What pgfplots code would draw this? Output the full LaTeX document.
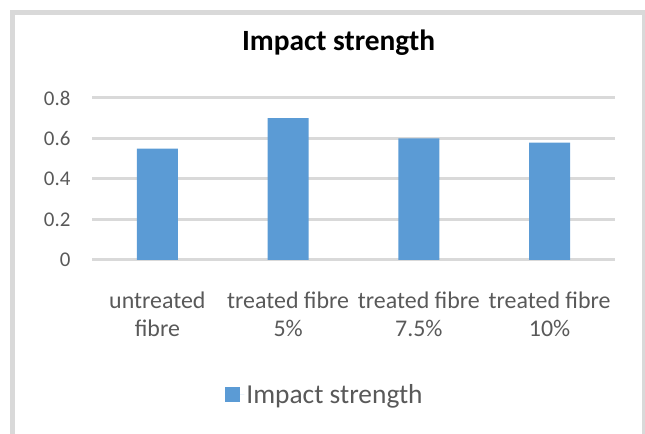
\documentclass[border=0pt]{standalone}
\usepackage{pgfplots}
\pgfplotsset{compat=1.18}
\usepackage{fontspec}
\setmainfont{Carlito}
\definecolor{barblue}{HTML}{5B9BD5}
\definecolor{gridgray}{HTML}{D9D9D9}
\definecolor{txtgray}{HTML}{595959}
\begin{document}
\begin{tikzpicture}[x=1bp,y=1bp]
\useasboundingbox (0,0) rectangle (645,434);
\begin{scope}
\clip (0,0) rectangle (645,434);
\draw[gridgray, line width=4.5bp] (12.5,-10) -- (12.5,421.5) -- (644,421.5) -- (644,-10);
\end{scope}
\begin{axis}[
  at={(92bp,174bp)}, anchor=south west,
  scale only axis, width=523bp, height=162bp,
  xmin=-0.5, xmax=3.5, ymin=0, ymax=0.8,
  ytick={0,0.2,0.4,0.6,0.8},
  yticklabels={0,0.2,0.4,0.6,0.8},
  xtick={0,1,2,3},
  xticklabels={untreated\\fibre, treated fibre\\5\%, treated fibre\\7.5\%, treated fibre\\10\%},
  xticklabel style={align=center, font=\fontsize{24}{28.5}\selectfont, text=txtgray, yshift=-28bp},
  yticklabel style={font=\fontsize{21}{26}\selectfont, text=txtgray, xshift=-18bp},
  axis line style={draw=none},
  major tick length=0pt,
  ymajorgrids, grid style={gridgray, line width=3bp},
  title={\bfseries Impact strength},
  title style={font=\fontsize{29.5}{34}\selectfont, text=black, at={(0.4715,1)}, anchor=base, yshift=42bp},
  legend style={at={(0.4455,-0.833)}, anchor=center, draw=none, font=\fontsize{27.5}{32}\selectfont, text=txtgray, inner sep=0pt},
  legend image code/.code={\path (0bp,0bp) -- (19bp,0bp); \fill[barblue] (0bp,-7.5bp) rectangle (15bp,7.5bp);},
]
\addplot[ybar, bar width=41bp, fill=barblue, draw=none] coordinates {(0,0.55) (1,0.70) (2,0.60) (3,0.58)};
\addlegendentry{Impact strength}
\end{axis}
\end{tikzpicture}
\end{document}
